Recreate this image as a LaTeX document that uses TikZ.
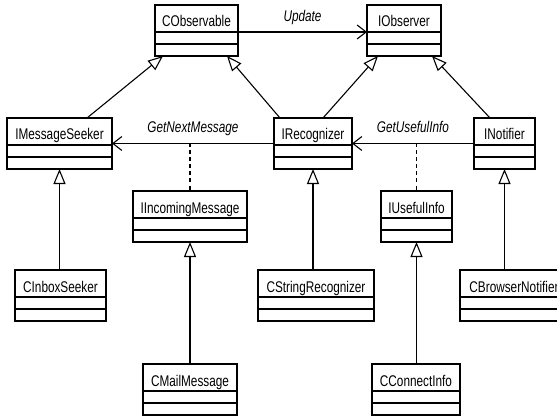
\documentclass[tikz,border=0pt]{standalone}
\usepackage{fontspec}
\setmainfont{Liberation Sans}[FakeStretch=0.76]
\usetikzlibrary{arrows.meta}
\tikzset{
  umlbox/.style={draw, line width=1.1pt, inner sep=0pt, outer sep=0pt, anchor=north west, minimum height=51pt},
  umltext/.style={font=\fontsize{15.5}{17}\selectfont, inner sep=0pt, text height=11pt, text depth=3pt},
  umllabel/.style={font=\fontsize{15.5}{17}\selectfont\itshape, inner sep=0pt, anchor=base},
  divider/.style={line width=1.1pt},
  inherit/.style={line width=1.1pt, -{Triangle[open, length=15pt, width=12pt, line width=1.1pt]}},
  assoc/.style={line width=1.1pt, -{Straight Barb[length=9pt, width=14pt, line width=1.1pt]}},
  dep/.style={line width=1.1pt, dash pattern=on 4pt off 3pt},
}
\newcommand{\umlclass}[5]{%
  \node[umlbox, minimum width={(#4-#2)*1pt}] (#1) at (#2,#3) {};
  \node[umltext] (#1-name) at ([yshift=-18pt]#1.north) {#5};
  \draw[divider] ([yshift=-27pt]#1.north west) -- ([yshift=-27pt]#1.north east);
  \draw[divider] ([yshift=-39pt]#1.north west) -- ([yshift=-39pt]#1.north east);
}
\begin{document}
\begin{tikzpicture}[x=1pt, y=-1pt]
  \fill[white] (0,0) rectangle (557,417);
  \path[use as bounding box] (0,0) rectangle (557,417);

  \umlclass{CObservable}{155}{5}{238}{CObservable}
  \umlclass{IObserver}{367}{5}{441}{IObserver}
  \umlclass{IMessageSeeker}{7}{118}{112}{IMessageSeeker}
  \umlclass{IRecognizer}{274}{118}{352}{IRecognizer}
  \umlclass{INotifier}{474}{118}{535}{INotifier}
  \umlclass{IIncomingMessage}{133}{191}{247}{IIncomingMessage}
  \umlclass{IUsefulInfo}{381}{191}{452}{IUsefulInfo}
  \umlclass{CInboxSeeker}{15}{270}{106}{CInboxSeeker}
  \umlclass{CStringRecognizer}{258}{270}{374}{CStringRecognizer}
  \umlclass{CBrowserNotifier}{460}{270}{568}{CBrowserNotifier}
  \umlclass{CMailMessage}{143}{364}{237}{CMailMessage}
  \umlclass{CConnectInfo}{372}{364}{460}{CConnectInfo}

  % associations
  \draw[assoc] ([yshift=-27pt]CObservable.north east) -- node[umllabel, yshift=10pt] {Update} ([yshift=-27pt]IObserver.north west);
  \draw[assoc] (IRecognizer.west) -- node[umllabel, yshift=11pt] {GetNextMessage} (IMessageSeeker.east);
  \draw[assoc] (INotifier.west) -- node[umllabel, yshift=11pt] {GetUsefulInfo} (IRecognizer.east);

  % association classes
  \draw[dep] (IIncomingMessage.north |- IRecognizer.west) -- (IIncomingMessage.north);
  \draw[dep] (IUsefulInfo.north |- INotifier.west) -- (IUsefulInfo.north);

  % generalizations, upper level
  \draw[inherit] ([xshift=80pt]IMessageSeeker.north west) -- ([xshift=8pt]CObservable.south west);
  \draw[inherit] ([xshift=6pt]IRecognizer.north west) -- ([xshift=72pt]CObservable.south west);
  \draw[inherit] ([xshift=49pt]IRecognizer.north west) -- ([xshift=11pt]IObserver.south west);
  \draw[inherit] ([xshift=16pt]INotifier.north west) -- ([xshift=65pt]IObserver.south west);

  % generalizations, lower level
  \draw[inherit] (IMessageSeeker.south |- CInboxSeeker.north) -- (IMessageSeeker.south);
  \draw[inherit] (IRecognizer.south |- CStringRecognizer.north) -- (IRecognizer.south);
  \draw[inherit] (INotifier.south |- CBrowserNotifier.north) -- (INotifier.south);
  \draw[inherit] (IIncomingMessage.south |- CMailMessage.north) -- (IIncomingMessage.south);
  \draw[inherit] (IUsefulInfo.south |- CConnectInfo.north) -- (IUsefulInfo.south);
\end{tikzpicture}
\end{document}
